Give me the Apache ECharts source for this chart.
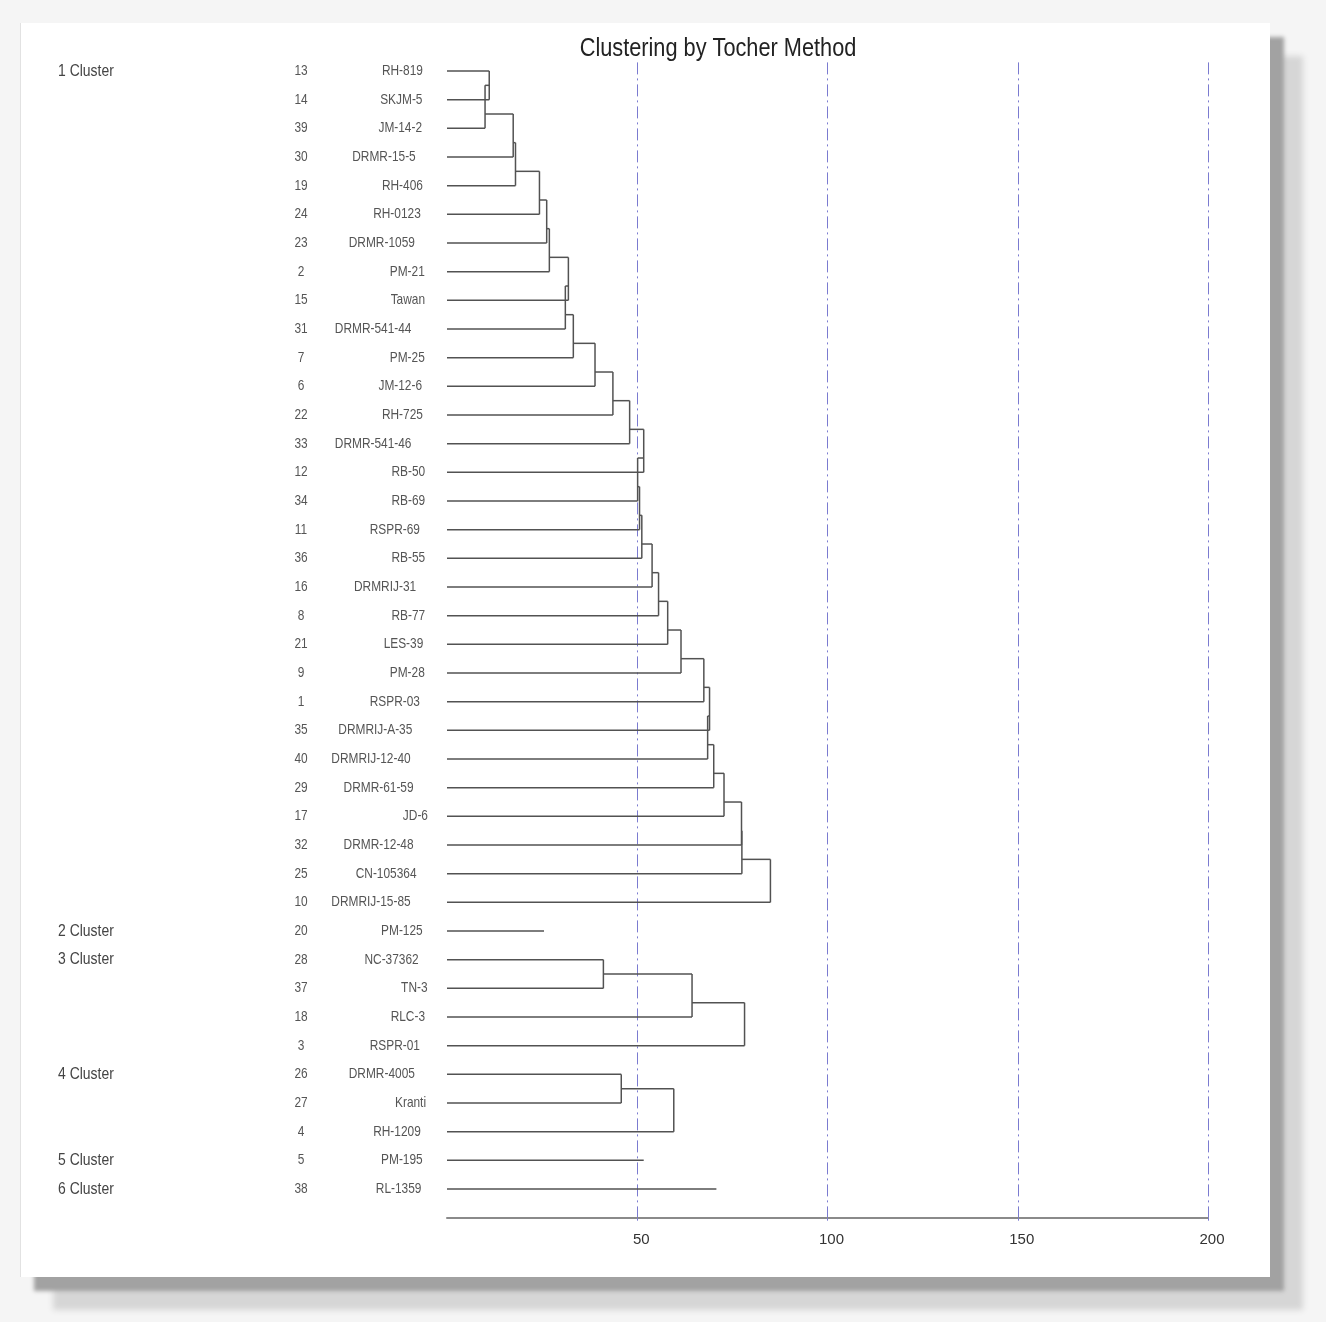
<!DOCTYPE html>
<html>
<head>
<meta charset="utf-8">
<script src="https://cdn.jsdelivr.net/npm/echarts@6/dist/echarts.min.js"></script>
<style>
  body { margin: 0; background: #f5f5f5; }
  #panel {
    position: absolute; left: 20px; top: 23px; width: 1249px; height: 1254px;
    background: #fff; border-left: 1px solid #e2e2e2;
    box-shadow: 14px 14px 4px #a2a2a2, 33px 33px 6px #d6d6d6;
  }
  #chart { position: absolute; left: 0; top: 0; width: 1326px; height: 1322px; }
</style>
</head>
<body>
<div id="panel"></div>
<div id="chart"></div>
<script>
var FONT = '"Liberation Sans", Arial, sans-serif';
var SQUEEZE = 0.82; // the original lettering is a narrow face

// genotypes in dendrogram order
var ids = [13, 14, 39, 30, 19, 24, 23, 2, 15, 31, 7, 6, 22, 33, 12, 34, 11, 36, 16, 8,
  21, 9, 1, 35, 40, 29, 17, 32, 25, 10, 20, 28, 37, 18, 3, 26, 27, 4, 5, 38];
var names = ["RH-819", "SKJM-5", "JM-14-2", "DRMR-15-5", "RH-406", "RH-0123", "DRMR-1059", "PM-21",
  "Tawan", "DRMR-541-44", "PM-25", "JM-12-6", "RH-725", "DRMR-541-46", "RB-50", "RB-69", "RSPR-69",
  "RB-55", "DRMRIJ-31", "RB-77", "LES-39", "PM-28", "RSPR-03", "DRMRIJ-A-35", "DRMRIJ-12-40",
  "DRMR-61-59", "JD-6", "DRMR-12-48", "CN-105364", "DRMRIJ-15-85", "PM-125", "NC-37362", "TN-3",
  "RLC-3", "RSPR-01", "DRMR-4005", "Kranti", "RH-1209", "PM-195", "RL-1359"];

var clusterLabels = ["1 Cluster", "2 Cluster", "3 Cluster", "4 Cluster", "5 Cluster", "6 Cluster"];
var clusterSizes = [30, 1, 4, 3, 1, 1];

// fusion distances, one per step (single member: length of its line)
var cluster1Heights = [11.1, 10.0, 17.4, 18.0, 24.3, 26.2, 26.9, 31.9, 31.1, 33.2, 38.9, 43.6, 48.0,
  51.7, 50.1, 50.6, 51.2, 53.9, 55.6, 58.0, 61.5, 67.5, 69.0, 68.5, 70.1, 72.8, 77.4, 77.5, 85.0];
var cluster2Heights = [25.5];
var cluster3Heights = [41.1, 64.4, 78.2];
var cluster4Heights = [45.8, 59.6];
var cluster5Heights = [51.7];
var cluster6Heights = [70.8];

var xTicks = [0, 50, 100, 150, 200];

var clusterHeights = [cluster1Heights, cluster2Heights, cluster3Heights,
  cluster4Heights, cluster5Heights, cluster6Heights];

// build the line segments [x1, row1, x2, row2]
var segs = [];
var clusterStart = [];
var start = 0;
clusterSizes.forEach(function (n, c) {
  var H = clusterHeights[c];
  clusterStart.push(start);
  if (n === 1) {
    segs.push([0, start, H[0], start]);
  } else {
    var anchor = start;
    for (var k = 0; k < n; k++) {
      var r = start + k;
      var h = H[Math.max(k - 1, 0)];
      segs.push([0, r, h, r]);
      if (k >= 1) {
        if (k >= 2) segs.push([H[k - 2], anchor, h, anchor]);
        segs.push([h, anchor, h, r]);
        anchor = (r - 1 + r) / 2;
      }
    }
  }
  start += n;
});

var rows = ids.map(function (d, i) { return [0, i]; });

var measure = document.createElement("canvas").getContext("2d");
function textWidth(s, font) {
  measure.font = font;
  return measure.measureText(s).width * SQUEEZE;
}
var nameFont = "14.5px " + FONT;

function narrowText(text, x, y, align, font, fill) {
  return {
    type: "text", x: x, y: y, scaleX: SQUEEZE,
    style: { text: text, x: 0, y: 0, align: align, verticalAlign: "middle", font: font, fill: fill }
  };
}

var chart = echarts.init(document.getElementById("chart"));

var option = {
  animation: false,
  graphic: [
    narrowText("Clustering by Tocher Method", 718, 49, "center", "26.5px " + FONT, "#222")
  ],
  grid: { left: 447, right: 118, top: 62.4, bottom: 104.3 },
  xAxis: {
    type: "value",
    min: xTicks[0],
    max: xTicks[xTicks.length - 1],
    interval: 50,
    axisLine: { show: true, onZero: false, lineStyle: { color: "#8a8a8a", width: 2 } },
    axisTick: { show: true, length: 3, lineStyle: { color: "#7b7bd0" } },
    axisLabel: {
      showMinLabel: false,
      margin: 15,
      padding: [0, 0, 0, 8],
      fontFamily: FONT, fontSize: 15, color: "#333"
    },
    splitLine: {
      show: true,
      showMinLine: false,
      lineStyle: { color: "#7b7bd0", width: 1, type: [12, 4, 2, 4] }
    }
  },
  yAxis: {
    type: "value",
    inverse: true,
    min: -0.3,
    max: 40,
    show: false
  },
  series: [
    {
      type: "custom",
      name: "tree",
      data: segs,
      encode: { x: [0, 2], y: [1, 3] },
      renderItem: function (params, api) {
        var p1 = api.coord([api.value(0), api.value(1)]);
        var p2 = api.coord([api.value(2), api.value(3)]);
        return {
          type: "line",
          shape: { x1: p1[0], y1: p1[1], x2: p2[0], y2: p2[1] },
          style: { stroke: "#525252", lineWidth: 1.5 }
        };
      }
    },
    {
      type: "custom",
      name: "labels",
      data: rows,
      encode: { x: 0, y: 1 },
      renderItem: function (params, api) {
        var i = params.dataIndex;
        var y = api.coord([0, api.value(1)])[1];
        var w = textWidth(names[i], nameFont);
        var children = [
          narrowText(String(ids[i]), 301, y, "center", nameFont, "#555"),
          narrowText(names[i], 436 - 0.32 * w, y, "right", nameFont, "#555")
        ];
        var c = clusterStart.indexOf(i);
        if (c >= 0) {
          children.push(narrowText(clusterLabels[c], 58, y, "left", "17px " + FONT, "#444"));
        }
        return { type: "group", children: children };
      }
    }
  ]
};
chart.setOption(option);
</script>
</body>
</html>
